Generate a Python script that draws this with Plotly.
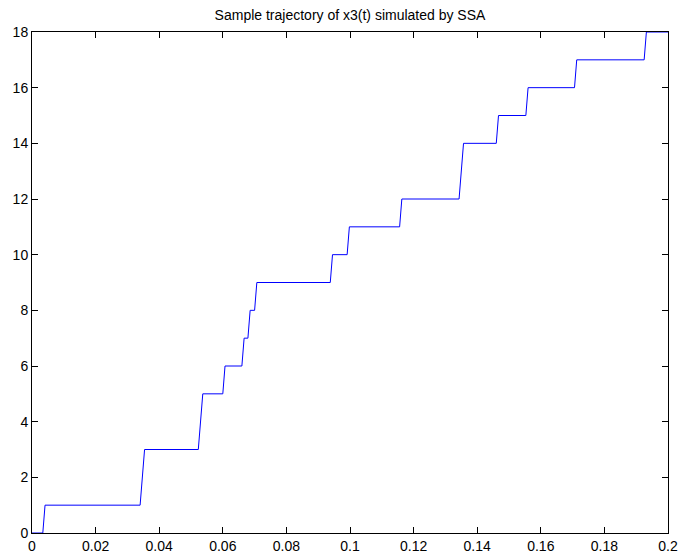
import plotly.graph_objects as go

# Reaction events of species x3: time at which each jump starts and the new count
jump_times = [0.0034, 0.0340, 0.0523, 0.0600, 0.0660, 0.0679, 0.0700,
              0.0938, 0.0991, 0.1156, 0.1343, 0.1460, 0.1553, 0.1706, 0.1925]
counts = [1, 3, 5, 6, 7, 8, 9, 10, 11, 12, 14, 15, 16, 17, 18]
t_start, t_end = 0.0, 0.2
x0 = 0

# trajectory was sampled on a fine time grid, so each jump shows a short ramp
ramp_per_unit = 0.0007

ts, xs = [t_start], [x0]
prev = x0
for t, c in zip(jump_times, counts):
    ts += [t, t + ramp_per_unit * (c - prev)]
    xs += [prev, c]
    prev = c
ts.append(t_end)
xs.append(prev)

fig = go.Figure(go.Scatter(x=ts, y=xs, mode="lines",
                           line=dict(color="#0000ff", width=1)))

font = dict(family="Liberation Sans, Arial, sans-serif", color="black")
axis_common = dict(
    showgrid=False, zeroline=False, showline=True, linecolor="black",
    linewidth=1, mirror="allticks", ticks="inside", ticklen=6,
    tickcolor="black", tickwidth=1, tickfont=dict(size=14, **font),
)
fig.update_xaxes(range=[0, 0.2], tickvals=[i * 0.02 for i in range(11)],
                 ticktext=["0", "0.02", "0.04", "0.06", "0.08", "0.1",
                           "0.12", "0.14", "0.16", "0.18", "0.2"],
                 **axis_common)
fig.update_yaxes(range=[0, 18], tickvals=list(range(0, 19, 2)),
                 **axis_common)

fig.update_layout(
    width=680, height=558,
    margin=dict(l=32, r=12, t=32, b=25, autoexpand=False),
    paper_bgcolor="white", plot_bgcolor="white",
    showlegend=False,
    title=dict(text="Sample trajectory of x3(t) simulated by SSA",
               font=dict(size=14, **font), x=0.5, xanchor="center",
               xref="paper", y=1 - 15 / 558, yanchor="middle",
               yref="container"),
)

fig.write_html("out.html")
